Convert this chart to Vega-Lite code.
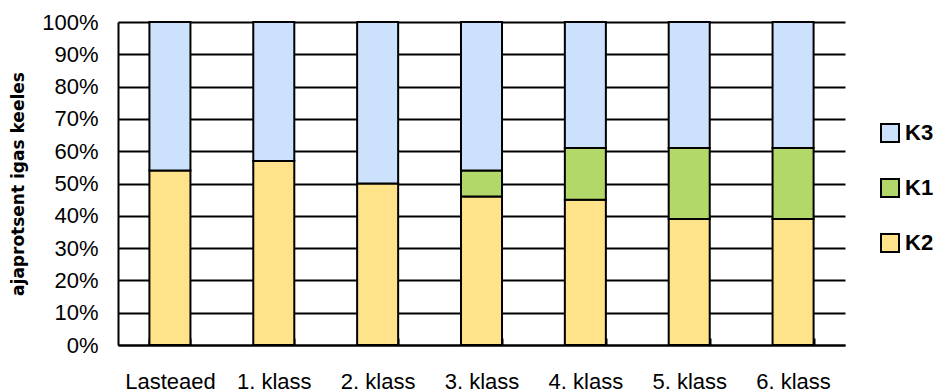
{
  "$schema": "https://vega.github.io/schema/vega-lite/v6.json",
  "width": 727,
  "height": 323,
  "autosize": {"type": "none"},
  "padding": {"left": 118, "top": 22, "right": 93, "bottom": 47},
  "background": "white",
  "config": {"view": {"stroke": null}, "font": "Liberation Sans"},
  "data": {
    "values": [
      {"grade": "Lasteaed", "series": "K2", "value": 54},
      {"grade": "Lasteaed", "series": "K3", "value": 46},
      {"grade": "1. klass", "series": "K2", "value": 57},
      {"grade": "1. klass", "series": "K3", "value": 43},
      {"grade": "2. klass", "series": "K2", "value": 50},
      {"grade": "2. klass", "series": "K3", "value": 50},
      {"grade": "3. klass", "series": "K2", "value": 46},
      {"grade": "3. klass", "series": "K1", "value": 8},
      {"grade": "3. klass", "series": "K3", "value": 46},
      {"grade": "4. klass", "series": "K2", "value": 45},
      {"grade": "4. klass", "series": "K1", "value": 16},
      {"grade": "4. klass", "series": "K3", "value": 39},
      {"grade": "5. klass", "series": "K2", "value": 39},
      {"grade": "5. klass", "series": "K1", "value": 22},
      {"grade": "5. klass", "series": "K3", "value": 39},
      {"grade": "6. klass", "series": "K2", "value": 39},
      {"grade": "6. klass", "series": "K1", "value": 22},
      {"grade": "6. klass", "series": "K3", "value": 39}
    ]
  },
  "transform": [
    {"calculate": "indexof(['K2','K1','K3'], datum.series)", "as": "stackOrder"}
  ],
  "mark": {"type": "bar", "stroke": "black", "strokeWidth": 2},
  "encoding": {
    "x": {
      "field": "grade",
      "type": "nominal",
      "sort": ["Lasteaed", "1. klass", "2. klass", "3. klass", "4. klass", "5. klass", "6. klass"],
      "scale": {"paddingInner": 0.605, "paddingOuter": 0.3025},
      "axis": {
        "title": null,
        "labelAngle": 0,
        "labelFont": "Liberation Sans",
        "labelFontSize": 22,
        "labelColor": "black",
        "labelPadding": 33,
        "tickBand": "extent",
        "tickSize": -7,
        "tickColor": "black",
        "tickWidth": 2,
        "domainColor": "black",
        "domainWidth": 2,
        "grid": false
      }
    },
    "y": {
      "field": "value",
      "type": "quantitative",
      "stack": "normalize",
      "scale": {"domain": [0, 1], "nice": false},
      "axis": {
        "title": "ajaprotsent igas keeles",
        "format": "%",
        "values": [0, 0.1, 0.2, 0.3, 0.4, 0.5, 0.6, 0.7, 0.8, 0.9, 1],
        "grid": true,
        "gridColor": "black",
        "gridWidth": 2,
        "gridOpacity": 1,
        "domainColor": "black",
        "domainWidth": 2,
        "ticks": false,
        "labelPadding": 20,
        "labelFont": "Liberation Sans",
        "labelFontSize": 22,
        "labelColor": "black",
        "titleFont": "DejaVu Sans",
        "titleFontSize": 17,
        "titleFontWeight": "bold",
        "titleColor": "black",
        "titleAngle": -90,
        "titleX": -100,
        "titleY": 161.5,
        "titleAlign": "center",
        "titleBaseline": "middle"
      }
    },
    "color": {
      "field": "series",
      "type": "nominal",
      "scale": {"domain": ["K3", "K1", "K2"], "range": ["#cce2fc", "#b3d86a", "#fee38a"]},
      "legend": {
        "title": null,
        "orient": "none",
        "legendX": 761,
        "legendY": 100,
        "symbolType": "square",
        "symbolSize": 324,
        "symbolStrokeColor": "black",
        "symbolStrokeWidth": 2,
        "symbolOpacity": 1,
        "labelFont": "Liberation Sans",
        "labelFontSize": 22,
        "labelFontWeight": "bold",
        "labelColor": "black",
        "labelOffset": 4,
        "rowPadding": 29
      }
    },
    "order": {"field": "stackOrder", "type": "quantitative"}
  }
}
